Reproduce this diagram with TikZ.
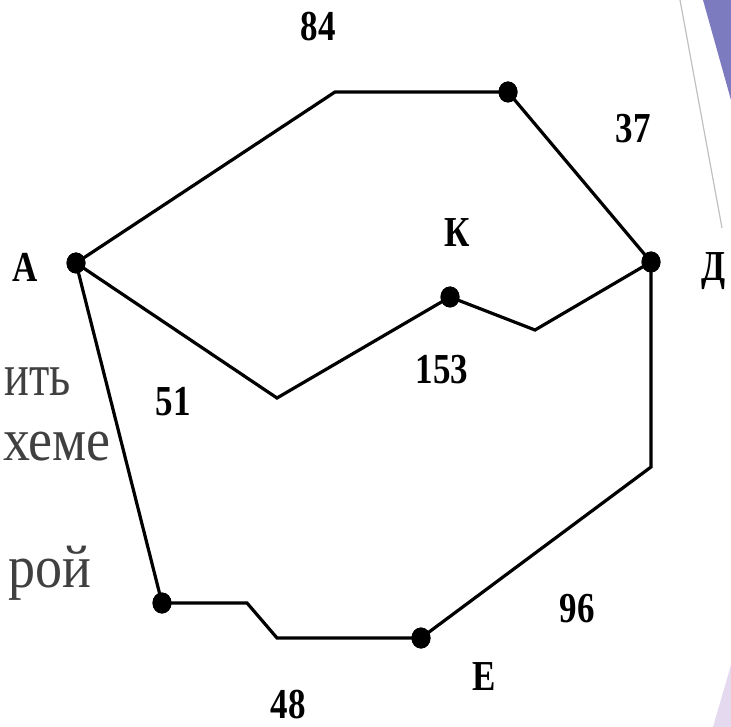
\documentclass[tikz,border=0pt]{standalone}
\usepackage{fontspec}
\setmainfont{Liberation Serif}
\usetikzlibrary{shapes.geometric}
\definecolor{slidepurple}{HTML}{7D7BC0}
\definecolor{slidelav}{HTML}{E4D9EE}
\definecolor{slidegrey}{HTML}{404040}
\definecolor{slideline}{HTML}{C0C0C0}
\newcommand{\lbltxt}[1]{\scalebox{1}[1.22]{\fontsize{35}{35}\selectfont\bfseries #1}}
\newcommand{\bgtxt}[2][1]{\scalebox{#1}[1.12]{\fontsize{54}{54}\selectfont #2}}
\tikzset{
  dot/.style={ellipse,fill=black,inner sep=0pt,minimum width=19pt,minimum height=21pt},
  edge/.style={line width=3.2pt,line join=miter},
  lbl/.style={inner sep=0pt,text=black},
  bg/.style={inner sep=0pt,text=slidegrey,anchor=base east}
}
\begin{document}
\begin{tikzpicture}[x=1pt,y=-1pt]
\useasboundingbox (0,0) rectangle (731,727);
% slide background fragments
\fill[slidepurple] (703,0) -- (731,0) -- (731,100) -- cycle;
\fill[slidelav] (713,727) -- (731,665) -- (731,727) -- cycle;
\draw[slideline,line width=1.2pt] (680,0) -- (722,228);
\node[bg] (t1) at (71,395) {\bgtxt[0.86]{ить}};
\node[bg] (t2) at (111,460) {\bgtxt{хеме}};
\node[bg] (t3) at (92,587) {\bgtxt{рой}};
% vertices
\node[dot] (A) at (76,263) {};
\node[dot] (T) at (508,92) {};
\node[dot] (D) at (651,262) {};
\node[dot] (K) at (450,297) {};
\node[dot] (B) at (162,603) {};
\node[dot] (E) at (421,638) {};
% bend points
\coordinate (c1) at (335,92);
\coordinate (c2) at (277,398);
\coordinate (c3) at (535,330);
\coordinate (c4) at (247,603);
\coordinate (c5) at (277,638);
\coordinate (c6) at (651,467);
% edges
\draw[edge] (A.center) -- (c1) -- (T.center);
\draw[edge] (T.center) -- (D.center);
\draw[edge] (A.center) -- (c2) -- (K.center);
\draw[edge] (K.center) -- (c3) -- (D.center);
\draw[edge] (A.center) -- (B.center);
\draw[edge] (B.center) -- (c4) -- (c5) -- (E.center);
\draw[edge] (D.center) -- (c6) -- (E.center);
% redraw dots on top
\foreach \n in {A,T,D,K,B,E} \fill (\n) ellipse (9.5pt and 10.5pt);
% labels
\node[lbl] (l84) at (318,27) {\lbltxt{84}};
\node[lbl] (l37) at (633,129) {\lbltxt{37}};
\node[lbl] (lA) at (25,267) {\lbltxt{А}};
\node[lbl] (lD) at (714,271) {\lbltxt{Д}};
\node[lbl] (lK) at (457,233) {\lbltxt{К}};
\node[lbl] (l153) at (442,370) {\lbltxt{153}};
\node[lbl] (l51) at (173,402) {\lbltxt{51}};
\node[lbl] (l96) at (577,609) {\lbltxt{96}};
\node[lbl] (lE) at (484,677) {\lbltxt{Е}};
\node[lbl] (l48) at (288,705) {\lbltxt{48}};
\end{tikzpicture}
\end{document}
